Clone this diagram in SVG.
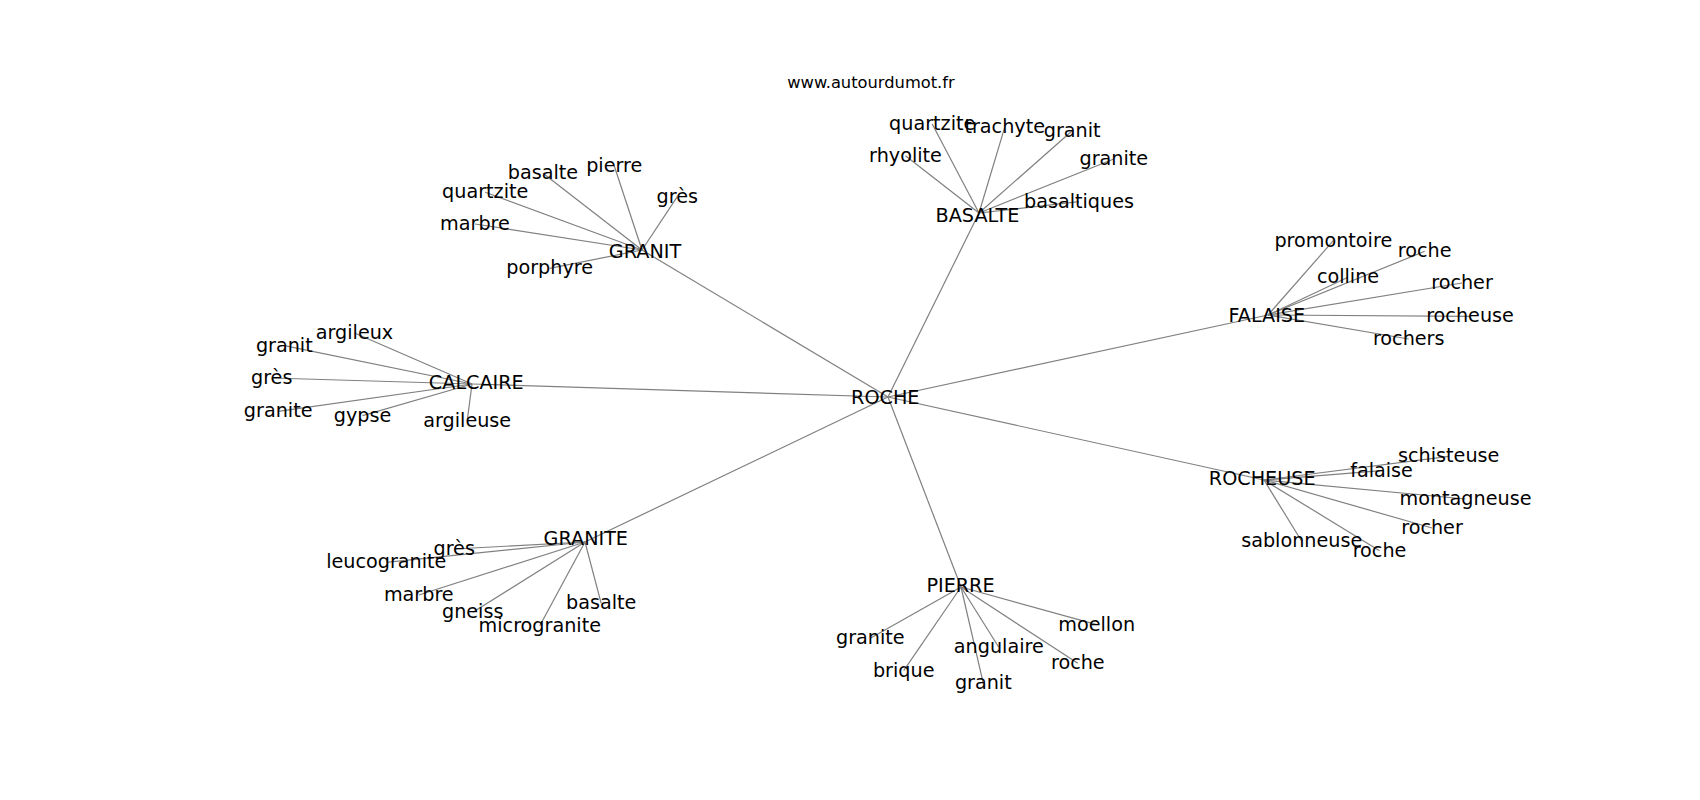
<svg xmlns="http://www.w3.org/2000/svg" width="1700" height="800" viewBox="0 0 1700 800">
<style>
.e line{stroke:#808080;stroke-width:1.2;fill:none}
text{font-family:"DejaVu Sans","Noto Sans",sans-serif;font-size:19.2px;fill:#000;text-anchor:middle}
.t{font-size:16.3px}
</style>
<rect width="1700" height="800" fill="#fff"/>
<g id="connectors" class="e">
<line x1="888" y1="397" x2="642" y2="250"/>
<line x1="888" y1="397" x2="979" y2="213"/>
<line x1="888" y1="397" x2="472" y2="384"/>
<line x1="888" y1="397" x2="1268" y2="315"/>
<line x1="888" y1="397" x2="1264" y2="480"/>
<line x1="888" y1="397" x2="585" y2="542"/>
<line x1="888" y1="397" x2="961" y2="587"/>
<line x1="642" y1="250" x2="543" y2="173.3"/>
<line x1="642" y1="250" x2="614.2" y2="165.7"/>
<line x1="642" y1="250" x2="485.2" y2="192.3"/>
<line x1="642" y1="250" x2="677.3" y2="196.7"/>
<line x1="642" y1="250" x2="475" y2="224"/>
<line x1="642" y1="250" x2="549.7" y2="268.3"/>
<line x1="979" y1="213" x2="932.2" y2="124"/>
<line x1="979" y1="213" x2="1004.7" y2="127.3"/>
<line x1="979" y1="213" x2="1072.2" y2="130.7"/>
<line x1="979" y1="213" x2="905.5" y2="155.7"/>
<line x1="979" y1="213" x2="1113.8" y2="159"/>
<line x1="979" y1="213" x2="1079" y2="201.7"/>
<line x1="472" y1="384" x2="354.5" y2="333"/>
<line x1="472" y1="384" x2="284.3" y2="345.7"/>
<line x1="472" y1="384" x2="271.7" y2="378"/>
<line x1="472" y1="384" x2="278.2" y2="411.3"/>
<line x1="472" y1="384" x2="362.5" y2="415.7"/>
<line x1="472" y1="384" x2="467.2" y2="421"/>
<line x1="1268" y1="315" x2="1333.3" y2="240.7"/>
<line x1="1268" y1="315" x2="1424.7" y2="251.3"/>
<line x1="1268" y1="315" x2="1348" y2="277.3"/>
<line x1="1268" y1="315" x2="1462" y2="283"/>
<line x1="1268" y1="315" x2="1470" y2="316.3"/>
<line x1="1268" y1="315" x2="1408.7" y2="339"/>
<line x1="1264" y1="480" x2="1448.7" y2="456.3"/>
<line x1="1264" y1="480" x2="1381.5" y2="470.7"/>
<line x1="1264" y1="480" x2="1465.5" y2="499"/>
<line x1="1264" y1="480" x2="1432" y2="528"/>
<line x1="1264" y1="480" x2="1301.7" y2="541.3"/>
<line x1="1264" y1="480" x2="1379.5" y2="550.7"/>
<line x1="585" y1="542" x2="454.2" y2="549"/>
<line x1="585" y1="542" x2="386.3" y2="562.3"/>
<line x1="585" y1="542" x2="418.8" y2="595"/>
<line x1="585" y1="542" x2="601.2" y2="603.3"/>
<line x1="585" y1="542" x2="472.7" y2="612.3"/>
<line x1="585" y1="542" x2="539.8" y2="625.7"/>
<line x1="961" y1="587" x2="870.3" y2="638.3"/>
<line x1="961" y1="587" x2="1096.7" y2="624.7"/>
<line x1="961" y1="587" x2="998.8" y2="647.3"/>
<line x1="961" y1="587" x2="1077.8" y2="663.3"/>
<line x1="961" y1="587" x2="903.7" y2="670.7"/>
<line x1="961" y1="587" x2="983.3" y2="683.3"/>
</g>
<text class="t" x="871" y="88">www.autourdumot.fr</text>
<g id="n-roche"><text x="885.3" y="404.3">ROCHE</text></g>
<g id="n-granit"><text x="645" y="258.3">GRANIT</text></g>
<g id="n-granit-basalte"><text x="543" y="179.3">basalte</text></g>
<g id="n-granit-pierre"><text x="614.2" y="171.7">pierre</text></g>
<g id="n-granit-quartzite"><text x="485.2" y="198.3">quartzite</text></g>
<g id="n-granit-gres"><text x="677.3" y="202.7">grès</text></g>
<g id="n-granit-marbre"><text x="475" y="230">marbre</text></g>
<g id="n-granit-porphyre"><text x="549.7" y="274.3">porphyre</text></g>
<g id="n-basalte"><text x="977.5" y="221.7">BASALTE</text></g>
<g id="n-basalte-quartzite"><text x="932.2" y="130">quartzite</text></g>
<g id="n-basalte-trachyte"><text x="1004.7" y="133.3">trachyte</text></g>
<g id="n-basalte-granit"><text x="1072.2" y="136.7">granit</text></g>
<g id="n-basalte-rhyolite"><text x="905.5" y="161.7">rhyolite</text></g>
<g id="n-basalte-granite"><text x="1113.8" y="165">granite</text></g>
<g id="n-basalte-basaltiques"><text x="1079" y="207.7">basaltiques</text></g>
<g id="n-calcaire"><text x="476.3" y="389.3">CALCAIRE</text></g>
<g id="n-calcaire-argileux"><text x="354.5" y="339">argileux</text></g>
<g id="n-calcaire-granit"><text x="284.3" y="351.7">granit</text></g>
<g id="n-calcaire-gres"><text x="271.7" y="384">grès</text></g>
<g id="n-calcaire-granite"><text x="278.2" y="417.3">granite</text></g>
<g id="n-calcaire-gypse"><text x="362.5" y="421.7">gypse</text></g>
<g id="n-calcaire-argileuse"><text x="467.2" y="427">argileuse</text></g>
<g id="n-falaise"><text x="1266.8" y="321.7">FALAISE</text></g>
<g id="n-falaise-promontoire"><text x="1333.3" y="246.7">promontoire</text></g>
<g id="n-falaise-roche"><text x="1424.7" y="257.3">roche</text></g>
<g id="n-falaise-colline"><text x="1348" y="283.3">colline</text></g>
<g id="n-falaise-rocher"><text x="1462" y="289">rocher</text></g>
<g id="n-falaise-rocheuse"><text x="1470" y="322.3">rocheuse</text></g>
<g id="n-falaise-rochers"><text x="1408.7" y="345">rochers</text></g>
<g id="n-rocheuse"><text x="1262.2" y="485">ROCHEUSE</text></g>
<g id="n-rocheuse-schisteuse"><text x="1448.7" y="462.3">schisteuse</text></g>
<g id="n-rocheuse-falaise"><text x="1381.5" y="476.7">falaise</text></g>
<g id="n-rocheuse-montagneuse"><text x="1465.5" y="505">montagneuse</text></g>
<g id="n-rocheuse-rocher"><text x="1432" y="534">rocher</text></g>
<g id="n-rocheuse-sablonneuse"><text x="1301.7" y="547.3">sablonneuse</text></g>
<g id="n-rocheuse-roche"><text x="1379.5" y="556.7">roche</text></g>
<g id="n-granite"><text x="585.8" y="545">GRANITE</text></g>
<g id="n-granite-gres"><text x="454.2" y="555">grès</text></g>
<g id="n-granite-leucogranite"><text x="386.3" y="568.3">leucogranite</text></g>
<g id="n-granite-marbre"><text x="418.8" y="601">marbre</text></g>
<g id="n-granite-basalte"><text x="601.2" y="609.3">basalte</text></g>
<g id="n-granite-gneiss"><text x="472.7" y="618.3">gneiss</text></g>
<g id="n-granite-microgranite"><text x="539.8" y="631.7">microgranite</text></g>
<g id="n-pierre"><text x="960.5" y="591.7">PIERRE</text></g>
<g id="n-pierre-granite"><text x="870.3" y="644.3">granite</text></g>
<g id="n-pierre-moellon"><text x="1096.7" y="630.7">moellon</text></g>
<g id="n-pierre-angulaire"><text x="998.8" y="653.3">angulaire</text></g>
<g id="n-pierre-roche"><text x="1077.8" y="669.3">roche</text></g>
<g id="n-pierre-brique"><text x="903.7" y="676.7">brique</text></g>
<g id="n-pierre-granit"><text x="983.3" y="689.3">granit</text></g>
</svg>
